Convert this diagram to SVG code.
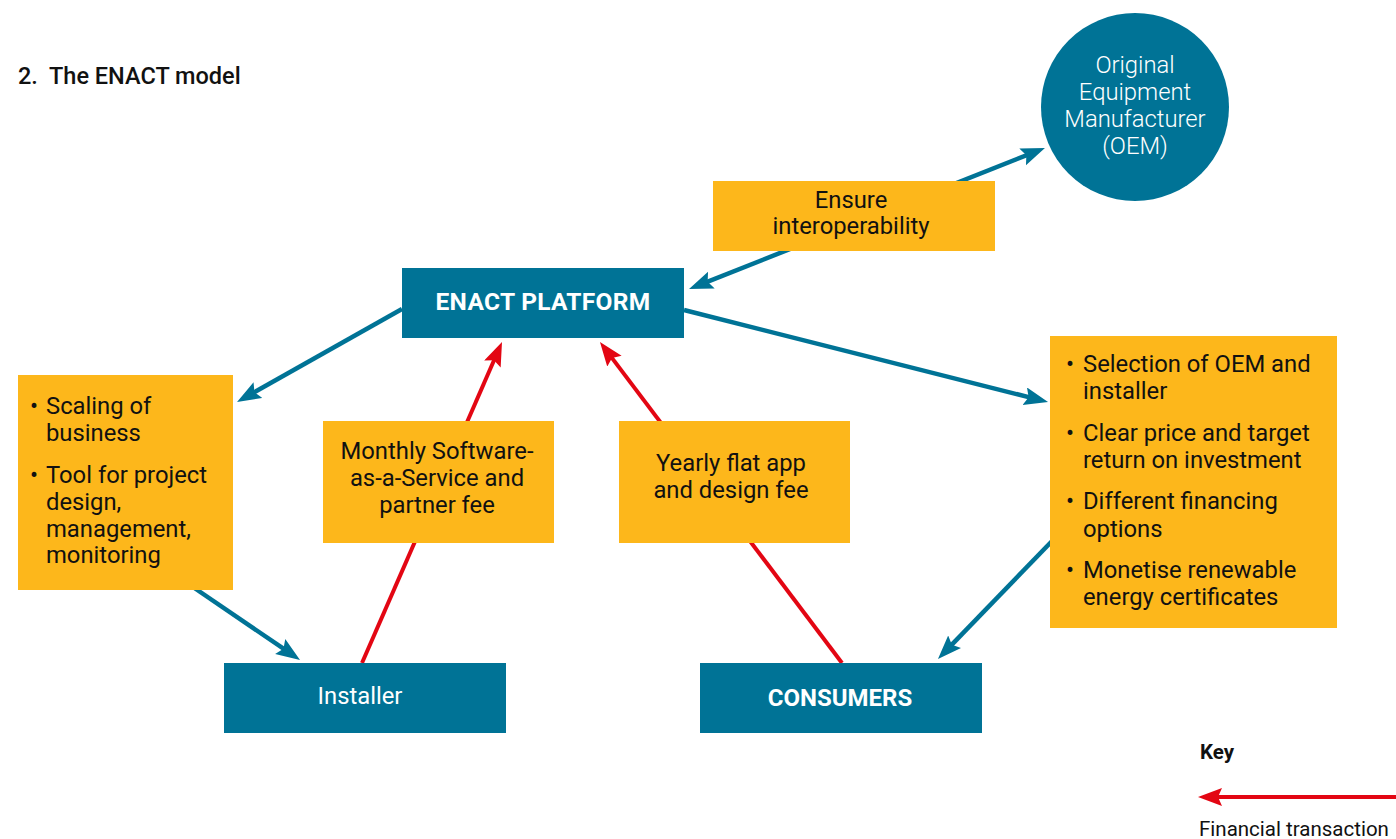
<svg xmlns="http://www.w3.org/2000/svg" width="1396" height="839" viewBox="0 0 1396 839">
<style>
text{font-family:Roboto,"Liberation Sans",sans-serif;}
.t{font-size:23.8px;fill:#111;}
.w{font-size:23.8px;fill:#fff;text-anchor:middle;}
.c{text-anchor:middle;}
.b{font-weight:700;}
.teal{fill:#007396;}
.yel{fill:#FDB71B;}
.bl{stroke:#007396;stroke-width:4.5;fill:none;}
.rd{stroke:#E30613;stroke-width:4;fill:none;}
</style>
<defs>
<marker id="ab" markerUnits="userSpaceOnUse" markerWidth="26" markerHeight="20" refX="12" refY="9" orient="auto-start-reverse" viewBox="0 0 26 20">
<path d="M0,0 L24,9 L0,18 L4,9 z" fill="#007396"/>
</marker>
<marker id="ar" markerUnits="userSpaceOnUse" markerWidth="26" markerHeight="20" refX="12" refY="9" orient="auto-start-reverse" viewBox="0 0 26 20">
<path d="M0,0 L24,9 L0,18 L4,9 z" fill="#E30613"/>
</marker>
</defs>
<rect width="1396" height="839" fill="#fff"/>
<text x="18" y="84" style="font-size:23.5px;font-weight:500" fill="#111">2.&#160; The ENACT model</text>

<g id="connectors">
<line class="bl" x1="700.2" y1="284.6" x2="1033.8" y2="152.4" marker-start="url(#ab)" marker-end="url(#ab)"/>
<line class="bl" x1="402" y1="309" x2="247.5" y2="396.1" marker-end="url(#ab)"/>
<line class="bl" x1="684" y1="310" x2="1036.4" y2="399.1" marker-end="url(#ab)"/>
<line class="bl" x1="190" y1="585" x2="290.1" y2="653.2" marker-end="url(#ab)"/>
<line class="bl" x1="1055" y1="538" x2="946.3" y2="650.4" marker-end="url(#ab)"/>
<line class="rd" x1="362" y1="663" x2="497.2" y2="353" marker-end="url(#ar)"/>
<line class="rd" x1="842" y1="663" x2="607.2" y2="351.6" marker-end="url(#ar)"/>
</g>

<g id="oem">
<circle class="teal" cx="1135" cy="107" r="94"/>
<text class="w" style="font-weight:300" x="1135" y="73">Original</text>
<text class="w" style="font-weight:300" x="1135" y="100">Equipment</text>
<text class="w" style="font-weight:300" x="1135" y="127">Manufacturer</text>
<text class="w" style="font-weight:300" x="1135" y="154">(OEM)</text>
</g>

<g id="interop">
<rect class="yel" x="713" y="181" width="282" height="70"/>
<text class="t c" x="851" y="208">Ensure</text>
<text class="t c" x="851" y="234">interoperability</text>
</g>

<g id="platform">
<rect class="teal" x="402" y="268" width="282" height="70"/>
<text class="w b" x="543" y="310" style="font-size:24.5px;letter-spacing:0.3px">ENACT PLATFORM</text>
</g>

<g id="installer-benefits">
<rect class="yel" x="18" y="375" width="215" height="215"/>
<text class="t" x="30" y="414">•</text>
<text class="t" x="46" y="414">Scaling of</text>
<text class="t" x="46" y="441">business</text>
<text class="t" x="30" y="483">•</text>
<text class="t" x="46" y="483">Tool for project</text>
<text class="t" x="46" y="510">design,</text>
<text class="t" x="46" y="537">management,</text>
<text class="t" x="46" y="563">monitoring</text>
</g>

<g id="monthly-fee">
<rect class="yel" x="323" y="421" width="231" height="122"/>
<text class="t c" x="437" y="459">Monthly Software-</text>
<text class="t c" x="437" y="486">as-a-Service and</text>
<text class="t c" x="437" y="513">partner fee</text>
</g>

<g id="yearly-fee">
<rect class="yel" x="619" y="421" width="231" height="122"/>
<text class="t c" x="731" y="471">Yearly flat app</text>
<text class="t c" x="731" y="498">and design fee</text>
</g>

<g id="consumer-benefits">
<rect class="yel" x="1050" y="336" width="287" height="292"/>
<text class="t" x="1066" y="372">•</text>
<text class="t" x="1083" y="372">Selection of OEM and</text>
<text class="t" x="1083" y="399">installer</text>
<text class="t" x="1066" y="441">•</text>
<text class="t" x="1083" y="441">Clear price and target</text>
<text class="t" x="1083" y="468">return on investment</text>
<text class="t" x="1066" y="509">•</text>
<text class="t" x="1083" y="509">Different financing</text>
<text class="t" x="1083" y="537">options</text>
<text class="t" x="1066" y="578">•</text>
<text class="t" x="1083" y="578">Monetise renewable</text>
<text class="t" x="1083" y="605">energy certificates</text>
</g>

<g id="installer">
<rect class="teal" x="224" y="663" width="282" height="70"/>
<text class="w" x="360" y="704">Installer</text>
</g>

<g id="consumers">
<rect class="teal" x="700" y="663" width="282" height="70"/>
<text class="w b" x="840" y="706" style="font-size:24px">CONSUMERS</text>
</g>

<g id="key">
<text x="1200" y="759" style="font-size:20.5px;font-weight:700" fill="#111">Key</text>
<line class="rd" x1="1396" y1="797" x2="1210" y2="797" marker-end="url(#ar)"/>
<text x="1199" y="836" style="font-size:20.5px" fill="#111">Financial transaction</text>
</g>
</svg>
